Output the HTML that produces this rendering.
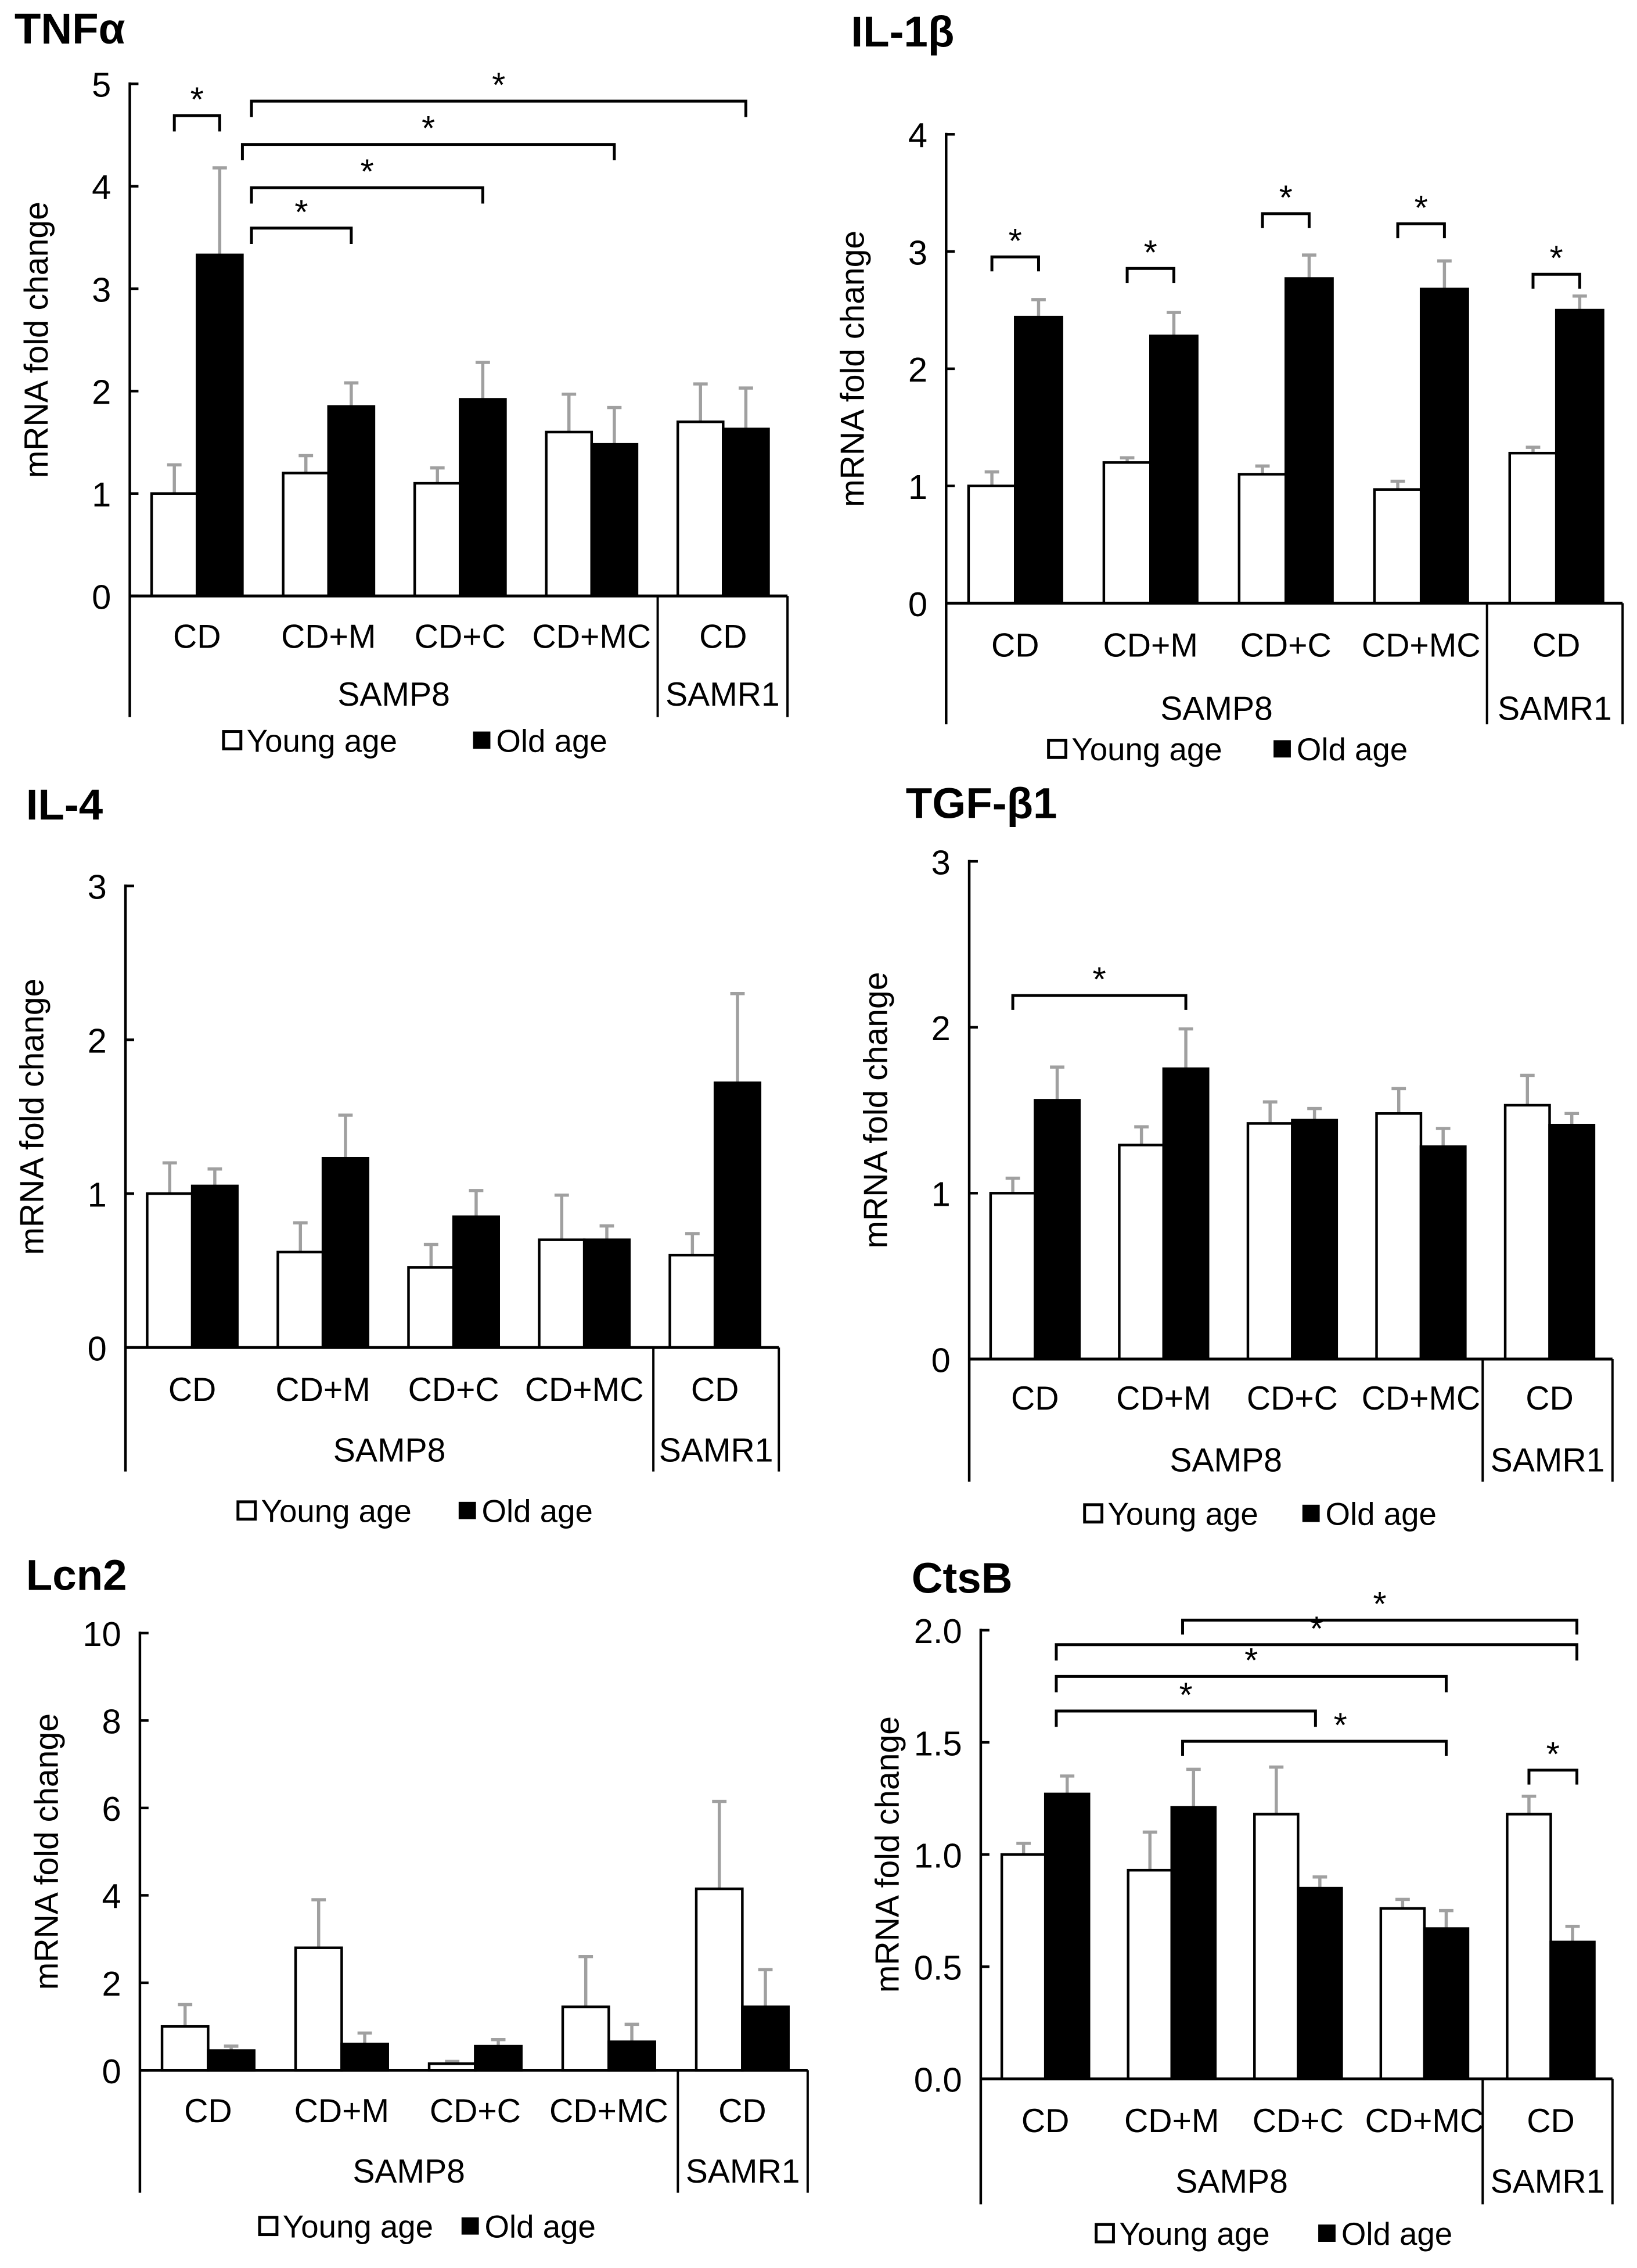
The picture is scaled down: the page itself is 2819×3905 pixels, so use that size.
<!DOCTYPE html>
<html><head><meta charset="utf-8"><style>
html,body{margin:0;padding:0;background:#fff}
svg{display:block}
text{font-family:"Liberation Sans",Arial,sans-serif;fill:#000}
</style></head><body>
<svg id="fig" xmlns="http://www.w3.org/2000/svg" width="2819" height="3905" viewBox="0 0 1135 1572"></svg>
<script>
const categories = ["CD","CD+M","CD+C","CD+MC","CD"];
const tnfYoung = [1.0,1.2,1.1,1.6,1.7];
const tnfOld = [3.33,1.85,1.92,1.48,1.63];
const tnfYoungErr = [0.28,0.17,0.15,0.37,0.37];
const tnfOldErr = [0.85,0.23,0.36,0.36,0.4];
const il1Young = [1.0,1.2,1.1,0.97,1.28];
const il1Old = [2.44,2.28,2.77,2.68,2.5];
const il1YoungErr = [0.12,0.04,0.07,0.07,0.05];
const il1OldErr = [0.15,0.2,0.2,0.24,0.12];
const il4Young = [1.0,0.62,0.52,0.7,0.6];
const il4Old = [1.05,1.23,0.85,0.7,1.72];
const il4YoungErr = [0.2,0.19,0.15,0.29,0.14];
const il4OldErr = [0.11,0.28,0.17,0.09,0.58];
const tgfYoung = [1.0,1.29,1.42,1.48,1.53];
const tgfOld = [1.56,1.75,1.44,1.28,1.41];
const tgfYoungErr = [0.09,0.11,0.13,0.15,0.18];
const tgfOldErr = [0.2,0.24,0.07,0.11,0.07];
const lcnYoung = [1.0,2.8,0.15,1.45,4.15];
const lcnOld = [0.45,0.6,0.55,0.65,1.45];
const lcnYoungErr = [0.5,1.1,0.05,1.15,2.0];
const lcnOldErr = [0.1,0.25,0.15,0.4,0.85];
const ctsYoung = [1.0,0.93,1.18,0.76,1.18];
const ctsOld = [1.27,1.21,0.85,0.67,0.61];
const ctsYoungErr = [0.05,0.17,0.21,0.04,0.08];
const ctsOldErr = [0.08,0.17,0.05,0.08,0.07];
const tnfTicks = ["0","1","2","3","4","5"];
const il1Ticks = ["0","1","2","3","4"];
const il4Ticks = ["0","1","2","3"];
const tgfTicks = ["0","1","2","3"];
const lcnTicks = ["0","2","4","6","8","10"];
const ctsTicks = ["0.0","0.5","1.0","1.5","2.0"];

const NS="http://www.w3.org/2000/svg";
const svg=document.getElementById('fig');
function mk(tag,attrs,parent,txt){const e=document.createElementNS(NS,tag);for(const k in attrs)e.setAttribute(k,attrs[k]);if(txt!==undefined)e.textContent=txt;(parent||svg).appendChild(e);return e;}

// bracket: [catA, offsetA (bar widths from category centre), catB, offsetB, y, tick length, star dx]
const panels=[
 {id:'tnf',title:'TNFα',tx:10,ty:30,ax:90,right:546,div:456,y0:413,ytop:58,max:5,ticks:tnfTicks,bottom:497,labY:449,grpY:489,legY:521,legYx:155,legOx:328,
  y:tnfYoung,o:tnfOld,ye:tnfYoungErr,oe:tnfOldErr,
  br:[[0,-0.5,0,0.5,80,11,0],[0,1.2,1,0.5,158,11,0],[0,1.2,2,0.5,130,11,0],[0,1.0,3,0.5,100,11,0],[0,1.2,4,0.5,70,11,0]]},
 {id:'il1',title:'IL-1β',tx:590,ty:32,ax:656,right:1125,div:1031,y0:418,ytop:93,max:4,ticks:il1Ticks,bottom:502,labY:455,grpY:499,legY:527,legYx:727,legOx:883,
  y:il1Young,o:il1Old,ye:il1YoungErr,oe:il1OldErr,
  br:[[0,-0.5,0,0.5,178,10,0],[1,-0.5,1,0.5,186,10,0],[2,-0.5,2,0.5,148,10,0],[3,-0.5,3,0.5,155,10,0],[4,-0.5,4,0.5,190,10,0]]},
 {id:'il4',title:'IL-4',tx:18,ty:568,ax:87,right:540,div:453,y0:934,ytop:614,max:3,ticks:il4Ticks,bottom:1020,labY:971,grpY:1013,legY:1055,legYx:165,legOx:318,
  y:il4Young,o:il4Old,ye:il4YoungErr,oe:il4OldErr,br:[]},
 {id:'tgf',title:'TGF-β1',tx:628,ty:567,ax:672,right:1118,div:1028,y0:942,ytop:597,max:3,ticks:tgfTicks,bottom:1027,labY:977,grpY:1020,legY:1057,legYx:752,legOx:903,
  y:tgfYoung,o:tgfOld,ye:tgfYoungErr,oe:tgfOldErr,br:[[0,-0.5,1,0.5,690,10,0]]},
 {id:'lcn',title:'Lcn2',tx:18,ty:1102,ax:97,right:560,div:470,y0:1435,ytop:1132,max:10,ticks:lcnTicks,bottom:1520,labY:1471,grpY:1513,legY:1551,legYx:180,legOx:320,
  y:lcnYoung,o:lcnOld,ye:lcnYoungErr,oe:lcnOldErr,br:[]},
 {id:'cts',title:'CtsB',tx:632,ty:1104,ax:680,right:1118,div:1028,y0:1441,ytop:1130,max:2,ticks:ctsTicks,bottom:1528,labY:1478,grpY:1520,legY:1556,legYx:760,legOx:914,
  y:ctsYoung,o:ctsOld,ye:ctsYoungErr,oe:ctsOldErr,
  br:[[1,0.25,4,0.6,1123,10,0],[0,0.25,4,0.6,1140,11,0],[0,0.25,3,0.5,1162,11,0],[0,0.25,2,0.4,1186,11,0],[1,0.25,3,0.5,1207,10,18],[4,-0.5,4,0.6,1227,10,0]]}
];

panels.forEach(p=>{
  const g=mk('g',{});
  
  
  const yS=v=>p.y0-(v/p.max)*(p.y0-p.ytop);
  const cw=(p.right-p.ax)/5;
  const bw=cw*0.345;
  const cx=i=>p.ax+cw*(i+0.5)+1;
  const t=mk('text',{x:p.tx,y:p.ty,'font-size':30,'font-weight':'bold'},g,p.title);
  
  
  const midY=(p.y0+p.ytop)/2;
  const at=mk('text',{x:0,y:0,'font-size':23,'text-anchor':'middle',transform:`translate(${p.ax-57},${midY}) rotate(-90)`},g,'mRNA fold change');
  
  
  p.ticks.forEach((lab,i)=>{
    const v=parseFloat(lab);
    const yy=yS(v);
    const tl=mk('text',{x:p.ax-13,y:yy+9,'font-size':24,'text-anchor':'end'},g,lab);
    
    
    mk('line',{x1:p.ax,x2:p.ax+6,y1:yy,y2:yy,stroke:'#000','stroke-width':1.8},g);
  });
  for(let i=0;i<5;i++){
    [[p.y[i],p.ye[i],'#fff',-1],[p.o[i],p.oe[i],'#000',0]].forEach(([v,e,fill,off],k)=>{
      const x=cx(i)+off*bw;
      const top=yS(v);
      const xm=x+bw/2;
      const el=mk('line',{x1:xm,x2:xm,y1:top,y2:yS(v+e),stroke:'#a0a0a0','stroke-width':2.2},g);
      
      
      mk('line',{x1:xm-5,x2:xm+5,y1:yS(v+e),y2:yS(v+e),stroke:'#a0a0a0','stroke-width':2.2},g);
      const r=mk('rect',{x:x,y:top,width:bw,height:p.y0-top,fill:fill,stroke:'#000','stroke-width':1.8},g);
      
      
    });
  }
  mk('line',{x1:p.ax,x2:p.ax,y1:p.ytop-1,y2:p.bottom,stroke:'#000','stroke-width':1.8},g);
  mk('line',{x1:p.ax,x2:p.right,y1:p.y0,y2:p.y0,stroke:'#000','stroke-width':2},g);
  mk('line',{x1:p.div,x2:p.div,y1:p.y0,y2:p.bottom,stroke:'#000','stroke-width':1.6},g);
  mk('line',{x1:p.right,x2:p.right,y1:p.y0,y2:p.bottom,stroke:'#000','stroke-width':1.6},g);
  categories.forEach((c,i)=>{
    const cl=mk('text',{x:cx(i),y:p.labY,'font-size':23,'text-anchor':'middle'},g,c);
    
    
  });
  const s8=mk('text',{x:(p.ax+p.div)/2,y:p.grpY,'font-size':23,'text-anchor':'middle'},g,'SAMP8');
  
  
  const s1=mk('text',{x:(p.div+p.right)/2,y:p.grpY,'font-size':23,'text-anchor':'middle'},g,'SAMR1');
  
  
  const l1=mk('g',{},g);
  
  
  mk('rect',{x:p.legYx,y:p.legY-14,width:12,height:12,fill:'#fff',stroke:'#000','stroke-width':2},l1);
  mk('text',{x:p.legYx+16,y:p.legY,'font-size':22},l1,'Young age');
  const l2=mk('g',{},g);
  
  
  mk('rect',{x:p.legOx,y:p.legY-14,width:12,height:12,fill:'#000'},l2);
  mk('text',{x:p.legOx+16,y:p.legY,'font-size':22},l2,'Old age');
  p.br.forEach(b=>{
    const xa=cx(b[0])+b[1]*bw;
    const xb=cx(b[2])+b[3]*bw;
    const yy=b[4];
    const pl=mk('polyline',{points:`${xa},${yy+b[5]} ${xa},${yy} ${xb},${yy} ${xb},${yy+b[5]}`,fill:'none',stroke:'#000','stroke-width':2},g);
    
    
    mk('text',{x:(xa+xb)/2+b[6],y:yy-3,'font-size':24,'text-anchor':'middle'},g,'*');
  });
});
</script>
</body></html>
